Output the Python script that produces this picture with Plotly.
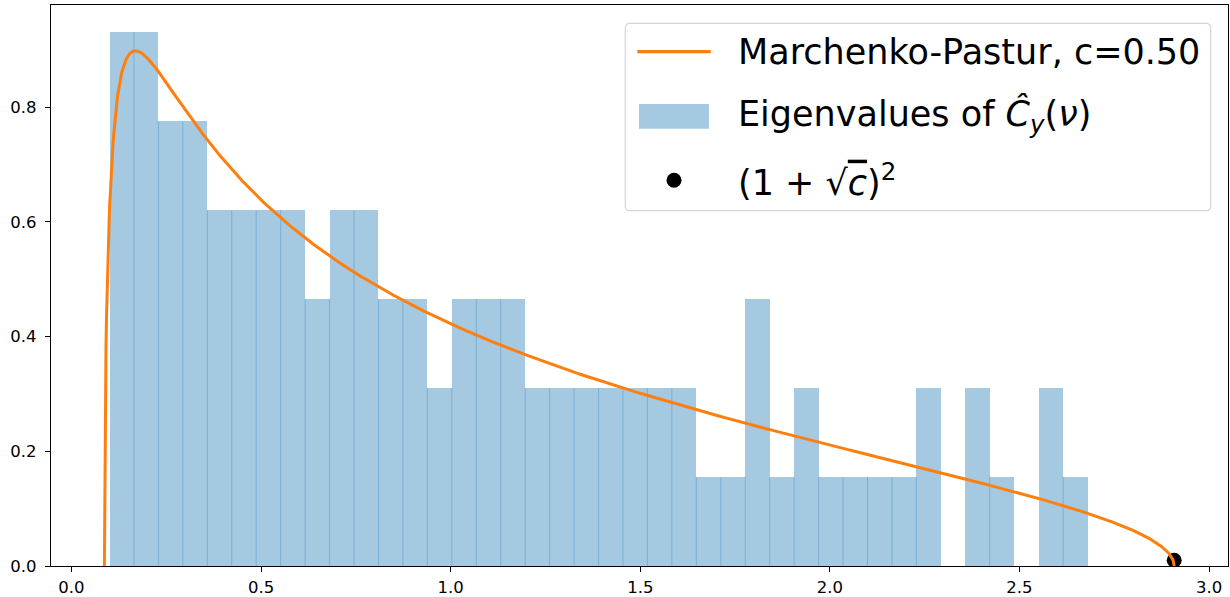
import numpy as np
import plotly.graph_objects as go

# Marchenko-Pastur ratio c = p/n and eigenvalue sample size
C_RATIO = 0.4975
N_EIG = 100

# histogram of the 100 eigenvalues: 40 equal bins between min and max eigenvalue
BIN_LO = 0.1003
BIN_HI = 2.6796
BIN_COUNTS = [6, 6, 5, 5, 4, 4, 4, 4, 3, 4,
              4, 3, 3, 2, 3, 3, 3, 2, 2, 2,
              2, 2, 2, 2, 1, 1, 3, 1, 2, 1,
              1, 1, 1, 2, 0, 2, 1, 0, 2, 1]

EDGE_Y = 0.01  # where the (1+sqrt(c))^2 marker sits
X_TICKS = [0.0, 0.5, 1.0, 1.5, 2.0, 2.5, 3.0]
Y_TICKS = [0.0, 0.2, 0.4, 0.6, 0.8]

W, H = 1230, 597
ML, MR, MT, MB = 51, 2, 5, 31
FONT = "DejaVu Sans"
BLUE_A = "rgba(31,119,180,0.4)"
ORANGE = "#ff7f0e"


def px(x):
    return (x - ML) / (W - ML - MR)


def py(y):
    return (H - MB - y) / (H - MT - MB)


def rounded_box(x0, y0, x1, y1, r):
    pts = [
        ("M", [(x0 + r, y0)]), ("L", [(x1 - r, y0)]), ("Q", [(x1, y0), (x1, y0 + r)]),
        ("L", [(x1, y1 - r)]), ("Q", [(x1, y1), (x1 - r, y1)]), ("L", [(x0 + r, y1)]),
        ("Q", [(x0, y1), (x0, y1 - r)]), ("L", [(x0, y0 + r)]), ("Q", [(x0, y0), (x0 + r, y0)]),
    ]
    path = ""
    for cmd, coords in pts:
        path += cmd + " " + " ".join(f"{px(a):.5f},{py(b):.5f}" for a, b in coords) + " "
    return path + "Z"


edges = np.linspace(BIN_LO, BIN_HI, len(BIN_COUNTS) + 1)
width = edges[1] - edges[0]
centers = (edges[:-1] + edges[1:]) / 2
density = np.array(BIN_COUNTS) / (N_EIG * width)

lam_lo = (1 - np.sqrt(C_RATIO)) ** 2
lam_hi = (1 + np.sqrt(C_RATIO)) ** 2
xs = np.linspace(lam_lo, lam_hi, 2000)
mp = np.sqrt(np.clip((lam_hi - xs) * (xs - lam_lo), 0, None)) / (2 * np.pi * C_RATIO * xs)

# faint seams between neighbouring bins, like the overlapping patch edges
seam_x, seam_y = [], []
for k in range(1, len(BIN_COUNTS)):
    top = min(density[k - 1], density[k])
    if top > 0:
        seam_x += [edges[k], edges[k], None]
        seam_y += [0, top, None]

fig = go.Figure()
fig.add_trace(go.Bar(
    x=centers, y=density, width=width,
    marker={"color": BLUE_A, "line": {"width": 0}},
    name="Eigenvalues", showlegend=False,
))
fig.add_trace(go.Scatter(
    x=seam_x, y=seam_y, mode="lines",
    line={"color": "rgba(31,119,180,0.3)", "width": 1},
    hoverinfo="skip", showlegend=False,
))
fig.add_trace(go.Scatter(
    x=[lam_hi], y=[EDGE_Y], mode="markers",
    marker={"color": "black", "size": 15},
    showlegend=False,
))
fig.add_trace(go.Scatter(
    x=xs, y=mp, mode="lines",
    line={"color": ORANGE, "width": 3},
    showlegend=False,
))

# hand-built legend, sized like the matplotlib one
shapes = [
    dict(type="path", xref="paper", yref="paper",
         path=rounded_box(625.3, 23.3, 1210.7, 210.7, 5),
         fillcolor="rgba(255,255,255,0.8)", line={"color": "#d6d6d6", "width": 1.2}),
    dict(type="line", xref="paper", yref="paper",
         x0=px(637.3), x1=px(710.7), y0=py(51.7), y1=py(51.7),
         line={"color": ORANGE, "width": 3.3}),
    dict(type="rect", xref="paper", yref="paper",
         x0=px(639), x1=px(709), y0=py(104), y1=py(128.7),
         fillcolor=BLUE_A, line={"width": 0}),
    dict(type="circle", xref="paper", yref="paper",
         x0=px(666.5), x1=px(681.5), y0=py(172.8), y1=py(187.8),
         fillcolor="black", line={"width": 0}),
]
labels = [
    (51.7, f"Marchenko-Pastur, c={0.5 if abs(C_RATIO - 0.5) < 0.005 else C_RATIO:.2f}"),
    (116.3, "Eigenvalues of <i>Ĉ</i><sub><i>y</i></sub>(<i>ν</i>)"),
    (180.3, "(1 + √<span style='text-decoration:overline'><i>c</i></span>)<sup>2</sup>"),
]
annotations = [
    dict(xref="paper", yref="paper", x=px(736), y=py(yc), text=txt,
         xanchor="left", yanchor="middle", showarrow=False,
         font={"family": FONT, "size": 35, "color": "black"})
    for yc, txt in labels
]

axis_common = dict(
    showline=True, linecolor="black", linewidth=1.3, mirror=True,
    ticks="outside", ticklen=5, tickwidth=1.2, tickcolor="black",
    showgrid=False, zeroline=False, tickformat=".1f", automargin=False,
    tickfont={"family": FONT, "size": 16.5, "color": "black"},
)
fig.update_layout(
    width=W, height=H,
    margin={"l": ML, "r": MR, "t": MT, "b": MB},
    plot_bgcolor="white", paper_bgcolor="white",
    bargap=0, showlegend=False,
    xaxis=dict(axis_common, range=[-0.054, 3.050], tickvals=X_TICKS, ticklabelstandoff=1),
    yaxis=dict(axis_common, range=[0, 0.978], tickvals=Y_TICKS, ticklabelstandoff=5),
    shapes=shapes, annotations=annotations,
    font={"family": FONT},
)
# page default margin would shift the figure by 8px
fig.write_html("out.html", config={"displayModeBar": False},
               post_script="document.body.style.margin='0';")
